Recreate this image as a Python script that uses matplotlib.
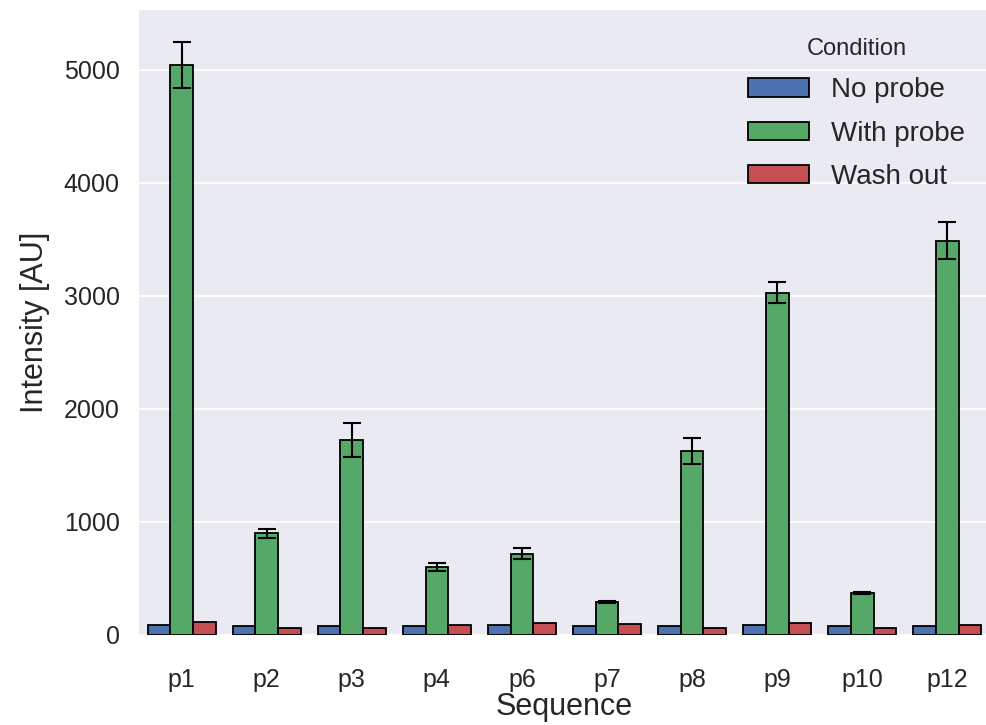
import numpy as np
import matplotlib.pyplot as plt

plt.rcParams['font.family'] = ['Liberation Sans', 'DejaVu Sans']
plt.rcParams['text.color'] = '0.15'
plt.rcParams['axes.labelcolor'] = '0.15'
plt.rcParams['xtick.color'] = '0.15'
plt.rcParams['ytick.color'] = '0.15'

# Valores
sequencias = ['p1', 'p2', 'p3', 'p4', 'p6', 'p7', 'p8', 'p9', 'p10', 'p12']
sem_sonda = [88, 82, 82, 79, 85, 79, 79, 88, 79, 79]
com_sonda = [5045, 900, 1725, 600, 720, 290, 1625, 3030, 370, 3490]
com_sonda_erro = [205, 40, 150, 36, 50, 10, 115, 93, 10, 165]
lavagem = [112, 62, 59, 88, 106, 97, 62, 106, 62, 88]
condicoes = ['No probe', 'With probe', 'Wash out']

CORES = ['#4C72B0', '#55A868', '#C44E52']

fig = plt.figure(figsize=(9.87, 7.25), dpi=100)
ax = fig.add_axes([139 / 987, 1 - 635 / 725, 851 / 987, 625 / 725])
ax.set_facecolor('#EAEAF2')

x = np.arange(len(sequencias))
largura = 0.8 / 3

kw_barra = dict(edgecolor='black', linewidth=1.3, zorder=2)
ax.bar(x - largura, sem_sonda, largura, color=CORES[0], label=condicoes[0], **kw_barra)
ax.bar(x, com_sonda, largura, color=CORES[1], label=condicoes[1], **kw_barra)
ax.bar(x + largura, lavagem, largura, color=CORES[2], label=condicoes[2], **kw_barra)
ax.errorbar(x, com_sonda, yerr=com_sonda_erro, fmt='none', ecolor='black',
            elinewidth=1.5, capsize=6.5, capthick=1.5, zorder=3)

ax.set_xlim(-0.5, len(sequencias) - 0.5)
ax.set_ylim(0, 5530)
ax.set_yticks([0, 1000, 2000, 3000, 4000, 5000])
ax.set_xticks(x)
ax.set_xticklabels(sequencias)
ax.tick_params(axis='both', length=0, labelsize=18)
ax.tick_params(axis='x', pad=24)
ax.tick_params(axis='y', pad=14)

ax.yaxis.grid(True, color='white', linewidth=1.3)
ax.xaxis.grid(False)
ax.set_axisbelow(True)
for s in ax.spines.values():
    s.set_visible(False)

ax.set_xlabel('Sequence', fontsize=22, labelpad=0)
ax.set_ylabel('Intensity [AU]', fontsize=22, labelpad=10)

leg = ax.legend(title='Condition', loc='upper right', bbox_to_anchor=(1.0, 0.995),
                frameon=False, fontsize=20, title_fontsize=17,
                handlelength=2.2, handleheight=0.65, handletextpad=0.8,
                labelspacing=0.62)

fig.savefig('out.png', dpi=100)
